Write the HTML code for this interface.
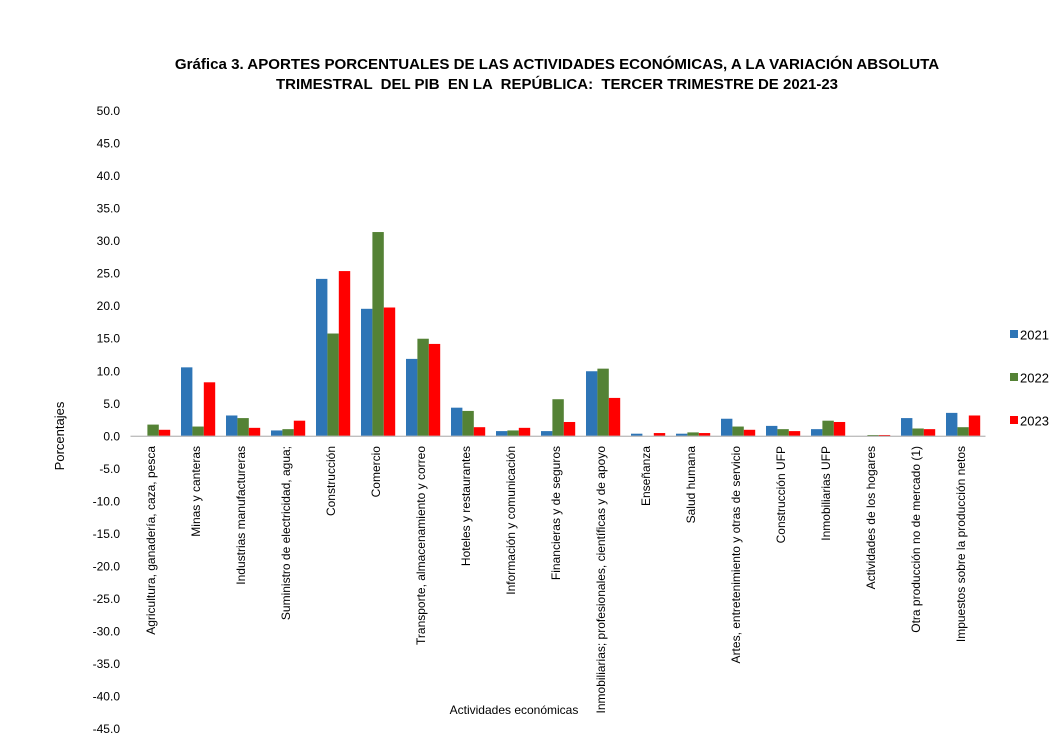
<!DOCTYPE html>
<html><head><meta charset="utf-8"><style>
body{margin:0;background:#fff;}
svg{display:block;font-family:"Liberation Sans",Arial,sans-serif;}
</style></head><body>
<svg width="1064" height="737" viewBox="0 0 1064 737" xmlns="http://www.w3.org/2000/svg">
<rect width="1064" height="737" fill="#fff"/>
<text x="557" y="69" font-size="15.1" font-weight="bold" text-anchor="middle">Gráfica 3. APORTES PORCENTUALES DE LAS ACTIVIDADES ECONÓMICAS, A LA VARIACIÓN ABSOLUTA</text>
<text x="557" y="89" font-size="15.1" font-weight="bold" text-anchor="middle" xml:space="preserve" textLength="562" lengthAdjust="spacingAndGlyphs">TRIMESTRAL  DEL PIB  EN LA  REPÚBLICA:  TERCER TRIMESTRE DE 2021-23</text>
<g id="yt" font-size="12" text-anchor="end"></g>
<text transform="translate(64,436) rotate(-90)" font-size="13" text-anchor="middle">Porcentajes</text>
<text x="514" y="714" font-size="12" text-anchor="middle">Actividades económicas</text>
<g id="bars"></g>
<line x1="130.5" y1="436.3" x2="985.5" y2="436.3" stroke="#bfbfbf" stroke-width="1.3"/>
<g id="labels" font-size="12"></g>
<rect x="1010" y="330" width="8" height="8" fill="#2E75B6"/><text x="1020" y="339.5" font-size="13">2021</text>
<rect x="1010" y="373" width="8" height="8" fill="#548235"/><text x="1020" y="382.5" font-size="13">2022</text>
<rect x="1010" y="416" width="8" height="8" fill="#FF0000"/><text x="1020" y="425.5" font-size="13">2023</text>
<script>
var ns="http://www.w3.org/2000/svg";
var yt=document.getElementById('yt');
for(var v=50;v>=-45;v-=5){var t=document.createElementNS(ns,'text');t.setAttribute('x',120);t.setAttribute('y',436.3-v*6.505+4);t.textContent=v.toFixed(1);yt.appendChild(t);}
var d=[["Agricultura, ganadería, caza, pesca",0,1.8,1.0],["Minas y canteras",10.6,1.5,8.3],["Industrias manufactureras",3.2,2.8,1.3],["Suministro de electricidad, agua;",0.9,1.1,2.4],["Construcción",24.2,15.8,25.4],["Comercio",19.6,31.4,19.8],["Transporte, almacenamiento y correo",11.9,15.0,14.2],["Hoteles y restaurantes",4.4,3.9,1.4],["Información y comunicación",0.8,0.9,1.3],["Financieras y de seguros",0.8,5.7,2.2],["Inmobiliarias; profesionales, científicas y de apoyo",10.0,10.4,5.9],["Enseñanza",0.4,0,0.5],["Salud humana",0.4,0.6,0.5],["Artes, entretenimiento y  otras de servicio",2.7,1.5,1.0],["Construcción UFP",1.6,1.1,0.8],["Inmobiliarias UFP",1.1,2.4,2.2],["Actividades de los hogares",0.05,0.2,0.2],["Otra producción no de mercado (1)",2.8,1.2,1.1],["Impuestos sobre la producción netos",3.6,1.4,3.2]];
var cols=["#2E75B6","#548235","#FF0000"];
var bg=document.getElementById('bars'),lg=document.getElementById('labels');
d.forEach(function(r,i){var c=153+45*i;
for(var k=0;k<3;k++){var v=r[k+1];if(v<=0)continue;var h=v*6.505;var b=document.createElementNS(ns,'rect');b.setAttribute('x',c-17+k*11.4);b.setAttribute('width',11.4);b.setAttribute('y',436.3-h);b.setAttribute('height',h);b.setAttribute('fill',cols[k]);bg.appendChild(b);}
var t=document.createElementNS(ns,'text');t.setAttribute('transform','translate('+(c+2)+',446) rotate(-90)');t.setAttribute('text-anchor','end');t.setAttribute('xml:space','preserve');t.textContent=r[0];lg.appendChild(t);});
</script>
</svg>
</body></html>
